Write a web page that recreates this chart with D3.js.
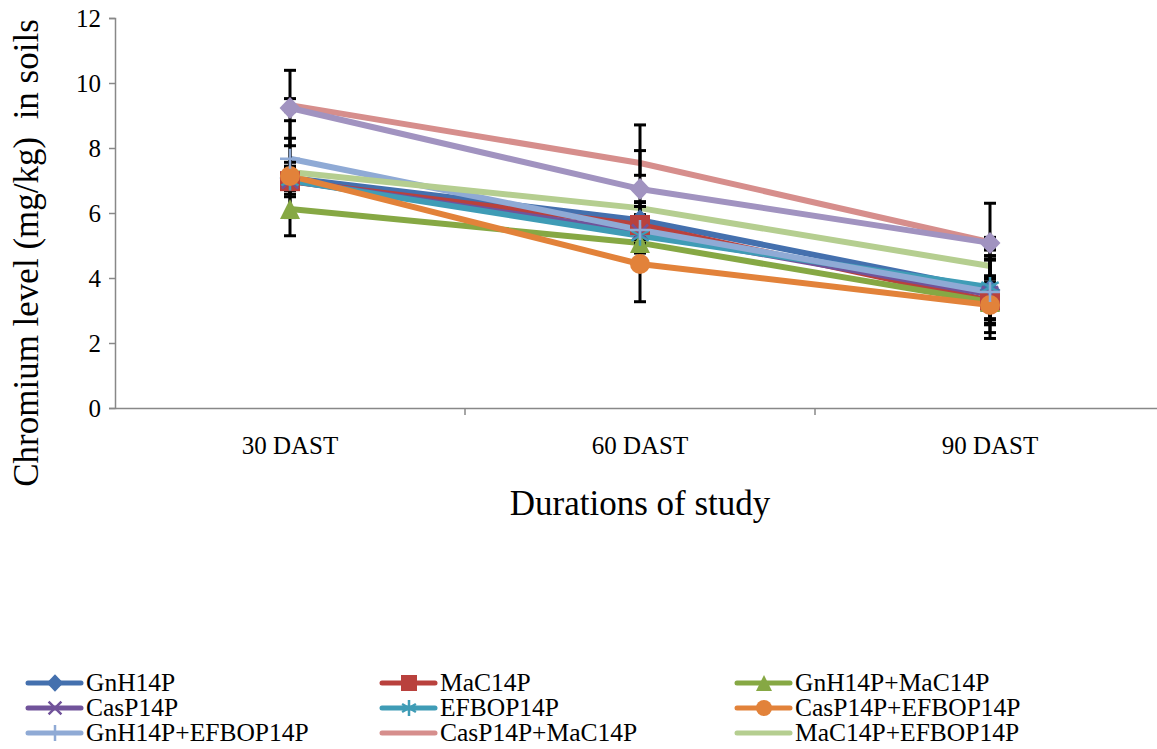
<!DOCTYPE html>
<html>
<head>
<meta charset="utf-8">
<script src="https://cdn.jsdelivr.net/npm/d3@7"></script>
<style>
body { margin: 0; background: #fff; }
text { font-family: "Liberation Serif", "Times New Roman", serif; fill: #000; }
</style>
</head>
<body>
<div id="chart-area"></div>
<script>
var durations = ["30 DAST", "60 DAST", "90 DAST"];
var seriesNames = ["GnH14P", "MaC14P", "GnH14P+MaC14P", "CasP14P", "EFBOP14P",
  "CasP14P+EFBOP14P", "GnH14P+EFBOP14P", "CasP14P+MaC14P", "MaC14P+EFBOP14P", ""];
var gnh = [7.08, 5.78, 3.63];
var mac = [6.98, 5.63, 3.30];
var gnhMac = [6.12, 5.08, 3.26];
var cas = [7.00, 5.40, 3.50];
var efbop = [7.00, 5.30, 3.72];
var casEfbop = [7.14, 4.43, 3.17];
var gnhEfbop = [7.67, 5.48, 3.57];
var casMac = [9.32, 7.54, 5.10];
var macEfbop = [7.26, 6.15, 4.37];
var extra = [9.23, 6.74, 5.08];
// error bar half-widths
var gnhErr = [1.22, 0.54, 0.92];
var macErr = [0.40, 0.57, 0.70];
var gnhMacErr = [0.82, 0.30, 0.70];
var casErr = [0.30, 0.40, 1.36];
var efbopErr = [0.30, 0.30, 0.97];
var casEfbopErr = [0.30, 1.16, 0.85];
var gnhEfbopErr = [1.17, 0.30, 1.00];
var casMacErr = [0.20, 0.38, 0.15];
var macEfbopErr = [0.30, 0.20, 0.30];
var extraErr = [1.16, 1.97, 1.22];
var yTicks = [0, 2, 4, 6, 8, 10, 12];

var colors = ["#4470AE", "#B9413D", "#86A844", "#71539A", "#3F9CB6",
  "#E2823A", "#8FAAD5", "#D68E8C", "#B5CE90", "#A193C0"];
var markers = ["diamond", "square", "triangle", "x", "star", "circle", "plus", "none", "none", "diamond"];

var values = [gnh, mac, gnhMac, cas, efbop, casEfbop, gnhEfbop, casMac, macEfbop, extra];
var errs = [gnhErr, macErr, gnhMacErr, casErr, efbopErr, casEfbopErr, gnhEfbopErr, casMacErr, macEfbopErr, extraErr];

var series = seriesNames.map((n, i) => ({
  name: n, color: colors[i], marker: markers[i],
  points: durations.map((d, j) => ({dur: d, v: values[i][j], e: errs[i][j]}))
}));

var width = 1157, height = 749;
var svg = d3.select("#chart-area").append("svg")
  .attr("width", width).attr("height", height);

var x = d3.scaleBand().domain(durations).range([115, 1165]);
var y = d3.scaleLinear().domain([0, 12]).range([408, 18]);
var cx = d => x(d) + x.bandwidth() / 2;

// axes
var leftAxis = d3.axisLeft(y).tickValues(yTicks).tickSize(6).tickPadding(8);
var gy = svg.append("g").attr("transform", "translate(115,0)").call(leftAxis);
gy.select(".domain").attr("stroke", "#888").attr("stroke-width", 1.5);
gy.selectAll(".tick line").attr("stroke", "#888").attr("stroke-width", 1.5);
gy.selectAll(".tick text").attr("font-size", "25px");

var bottomAxis = d3.axisBottom(x).tickSize(0).tickPadding(28);
var gx = svg.append("g").attr("transform", "translate(0,408)").call(bottomAxis);
gx.select(".domain").attr("stroke", "#888").attr("stroke-width", 1.5);
gx.selectAll(".tick text").attr("font-size", "25px");
// tick marks between categories
gx.selectAll(".sep").data(durations.slice(1)).enter().append("line")
  .attr("x1", d => x(d)).attr("x2", d => x(d))
  .attr("y1", 0).attr("y2", 7)
  .attr("stroke", "#888").attr("stroke-width", 1.5);

// lines
var line = d3.line().x(d => cx(d.dur)).y(d => y(d.v));
svg.append("g").selectAll("path").data(series).enter().append("path")
  .attr("d", d => line(d.points))
  .attr("fill", "none")
  .attr("stroke", d => d.color)
  .attr("stroke-width", 6)
  .attr("stroke-linejoin", "round");

// error bars
var eb = svg.append("g");
series.forEach(s => {
  s.points.forEach(p => {
    var px = cx(p.dur);
    eb.append("line").attr("x1", px).attr("x2", px)
      .attr("y1", y(p.v + p.e)).attr("y2", y(p.v - p.e))
      .attr("stroke", "#000").attr("stroke-width", 3);
    [p.v + p.e, p.v - p.e].forEach(v => {
      eb.append("line").attr("x1", px - 6).attr("x2", px + 6)
        .attr("y1", y(v)).attr("y2", y(v))
        .attr("stroke", "#000").attr("stroke-width", 3);
    });
  });
});

// markers
function drawMarker(g, type, color, px, py, sz) {
  if (type === "diamond") {
    var r = sz * 0.55;
    g.append("path").attr("d", "M" + px + "," + (py - r) + "L" + (px + r * 0.95) + "," + py +
      "L" + px + "," + (py + r) + "L" + (px - r * 0.95) + "," + py + "Z")
      .attr("fill", color);
  } else if (type === "square") {
    g.append("rect").attr("x", px - sz / 2).attr("y", py - sz / 2)
      .attr("width", sz).attr("height", sz).attr("fill", color);
  } else if (type === "triangle") {
    var h = sz / 2;
    g.append("path").attr("d", "M" + px + "," + (py - h) + "L" + (px + h) + "," + (py + h) +
      "L" + (px - h) + "," + (py + h) + "Z")
      .attr("fill", color);
  } else if (type === "circle") {
    g.append("circle").attr("cx", px).attr("cy", py).attr("r", sz / 2).attr("fill", color);
  } else if (type === "x") {
    var q = sz / 2 * 0.8;
    g.append("path").attr("d", "M" + (px - q) + "," + (py - q) + "L" + (px + q) + "," + (py + q) +
      "M" + (px - q) + "," + (py + q) + "L" + (px + q) + "," + (py - q))
      .attr("stroke", color).attr("stroke-width", 2.5);
  } else if (type === "star") {
    var rr = sz / 2;
    var p = "";
    [30, 150].forEach(a => {
      var t = a * Math.PI / 180;
      p += "M" + (px - rr * Math.cos(t)) + "," + (py - rr * Math.sin(t)) +
           "L" + (px + rr * Math.cos(t)) + "," + (py + rr * Math.sin(t));
    });
    p += "M" + px + "," + (py - rr) + "L" + px + "," + (py + rr);
    g.append("path").attr("d", p).attr("stroke", color).attr("stroke-width", 2.5);
  } else if (type === "plus") {
    g.append("path").attr("d", "M" + (px - sz / 2) + "," + py + "L" + (px + sz / 2) + "," + py +
      "M" + px + "," + (py - sz / 2) + "L" + px + "," + (py + sz / 2))
      .attr("stroke", color).attr("stroke-width", 2.5);
  }
}

var mg = svg.append("g");
series.forEach(s => {
  s.points.forEach(p => drawMarker(mg, s.marker, s.color, cx(p.dur), y(p.v), 20));
});

// axis titles
svg.append("text")
  .attr("transform", "translate(38,253) rotate(-90)")
  .attr("text-anchor", "middle")
  .attr("font-size", "35px")
  .attr("xml:space", "preserve")
  .text("Chromium level (mg/kg)  in soils");

svg.append("text")
  .attr("x", 640).attr("y", 515)
  .attr("text-anchor", "middle")
  .attr("font-size", "35px")
  .text("Durations of study");

// legend
var legCols = [28, 382, 737];
var legRows = [683, 708, 733];
var legend = svg.append("g");
series.filter(s => s.name !== "").forEach((s, i) => {
  var lx = legCols[i % 3], ly = legRows[Math.floor(i / 3)];
  legend.append("line").attr("x1", lx).attr("x2", lx + 53)
    .attr("y1", ly).attr("y2", ly)
    .attr("stroke", s.color).attr("stroke-width", 5)
    .attr("stroke-linecap", "round");
  drawMarker(legend, s.marker, s.color, lx + 27, ly, 16);
  legend.append("text").attr("x", lx + 58).attr("y", ly + 8)
    .attr("font-size", "25.5px").text(s.name);
});
</script>
</body>
</html>
